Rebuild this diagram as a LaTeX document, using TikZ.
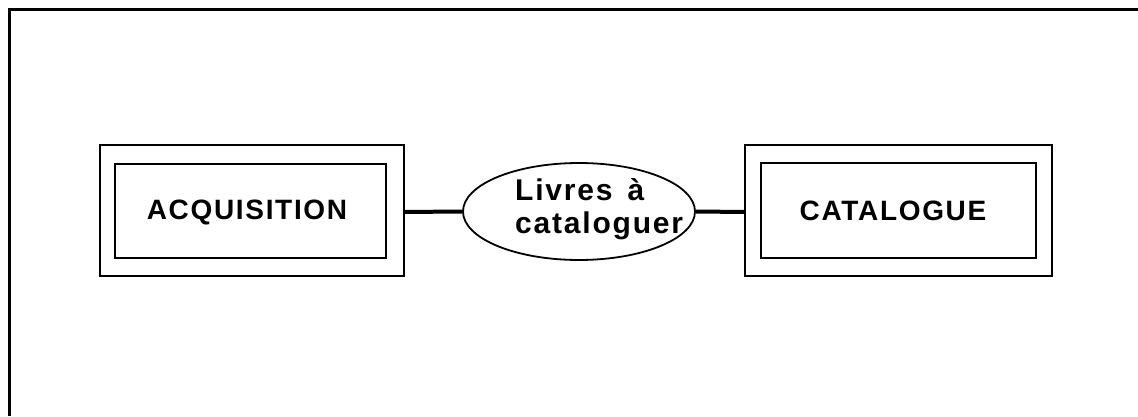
\documentclass[tikz,border=0pt]{standalone}
\usepackage{fontspec}
\setmainfont{Liberation Sans}
\newfontfamily\boxfont[LetterSpace=6]{Liberation Sans}
\usetikzlibrary{shapes.geometric}
\tikzset{
  boxline/.style={draw, line width=1.8pt},
  conn/.style={draw, line width=4pt},
  lbl/.style={font=\boxfont\bfseries\fontsize{28}{30}\selectfont, inner sep=0pt},
  elbl/.style={font=\boxfont\bfseries\fontsize{30}{33}\selectfont, inner sep=0pt, anchor=base west},
}
\begin{document}
\begin{tikzpicture}[x=1pt,y=1pt]
\useasboundingbox (0,0) rectangle (1138,416);
% frame
\coordinate (f1) at (9,0);
\coordinate (f2) at (9,406);
\coordinate (f3) at (1138,406);
\draw[line width=3pt] (f1) -- (f2) -- (f3);
% ACQUISITION
\draw[boxline] (100,140) rectangle (404,271);
\draw[boxline] (115,158) rectangle (386,252);
\coordinate (acqR) at (404,204);
\node[lbl] (acq) at (247,204) {ACQUISITION};
% CATALOGUE
\draw[boxline] (745,140) rectangle (1052,271);
\draw[boxline] (761,158) rectangle (1036,253);
\coordinate (catL) at (745,204);
\node[lbl] (cat) at (893,205) {CATALOGUE};
% ellipse
\node[ellipse, draw, line width=1.8pt, minimum width=232pt, minimum height=97pt, inner sep=0pt] (ell) at (579,204.5) {};
\node[elbl] (t1) at (515,216) {Livres \,à};
\node[elbl] (t2) at (515,183) {cataloguer};
% connectors
\draw[conn] (acqR) -- (ell.west);
\draw[conn] (ell.east) -- (catL);
\end{tikzpicture}
\end{document}
